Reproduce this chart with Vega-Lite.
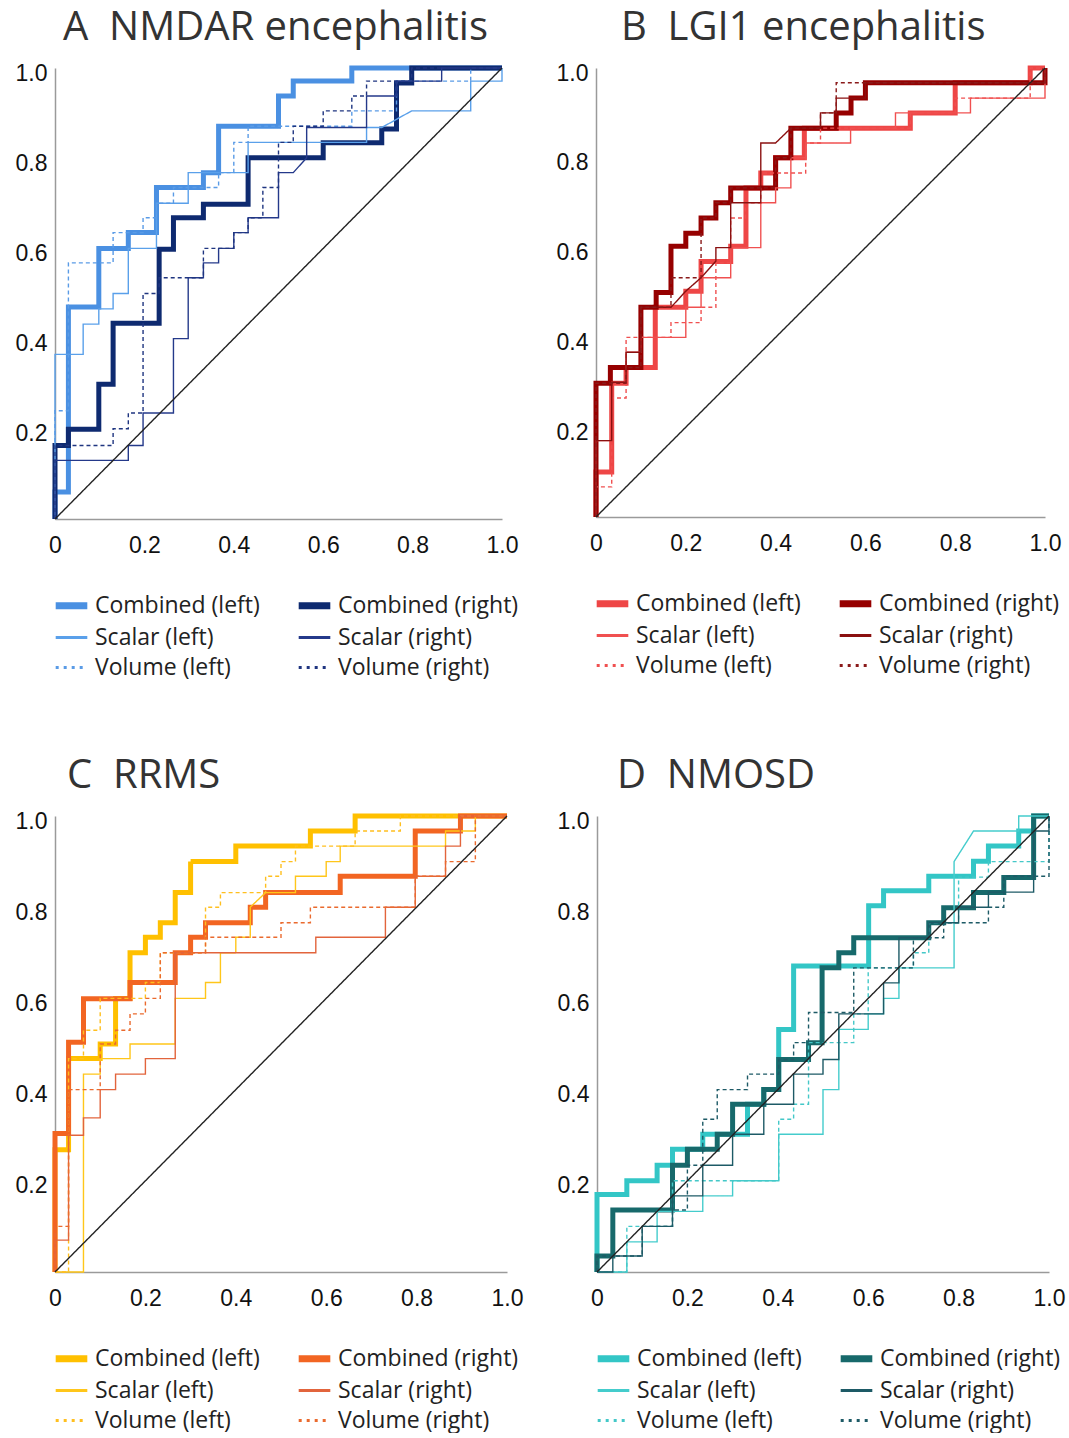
{
"$schema": "https://vega.github.io/schema/vega-lite/v6.json",
"padding": {"left": 15, "top": 8, "right": 2, "bottom": 0},
"background": "white",
"config": {
 "view": {"stroke": null},
 "axis": {"grid": false, "ticks": false, "domainColor": "#9a9a9a", "domainWidth": 1.5, "labelFont": "Liberation Sans", "labelFontSize": 23, "labelColor": "#111", "labelPadding": 8, "labelFlush": false},
 "axisX": {"labelPadding": 15},
 "axisY": {"labelOffset": 5},
 "legend": {"orient": "bottom", "columns": 2, "title": null, "labelFont": "Open Sans", "labelFontSize": 23, "labelColor": "#222", "labelLimit": 400, "symbolSize": 1000, "symbolOffset": 5, "columnPadding": 24, "rowPadding": 6, "offset": 37, "labelOffset": 12,
   "symbolStrokeWidth": {"expr": "(datum.value === 'CL' || datum.value === 'CR') ? 7 : 3"},
   "symbolDash": {"expr": "(datum.value === 'VL' || datum.value === 'VR') ? [3, 5] : [1, 0]"}},
 "title": {"font": "Open Sans", "fontSize": 40, "fontWeight": "normal", "color": "#333", "anchor": "start", "frame": "group", "offset": 10},
 "line": {"strokeJoin": "miter"}
},
"spacing": 76,
"resolve": {"scale": {"color": "independent"}, "legend": {"color": "independent"}},
"vconcat": [
{"hconcat": [
{
 "width": 447, "height": 451,
 "title": {"text": "A\u00a0\u00a0NMDAR encephalitis", "dx": 8},
 "data": {"values": [
{"s":"CL","x":0,"y":0},{"s":"CL","x":0,"y":0.06},{"s":"CL","x":0.03,"y":0.06},{"s":"CL","x":0.03,"y":0.47},{"s":"CL","x":0.098,"y":0.47},{"s":"CL","x":0.098,"y":0.6},{"s":"CL","x":0.164,"y":0.6},{"s":"CL","x":0.164,"y":0.635},{"s":"CL","x":0.227,"y":0.635},{"s":"CL","x":0.227,"y":0.735},{"s":"CL","x":0.332,"y":0.735},{"s":"CL","x":0.332,"y":0.768},{"s":"CL","x":0.366,"y":0.768},{"s":"CL","x":0.366,"y":0.871},{"s":"CL","x":0.5,"y":0.871},{"s":"CL","x":0.5,"y":0.938},{"s":"CL","x":0.533,"y":0.938},{"s":"CL","x":0.533,"y":0.971},{"s":"CL","x":0.664,"y":0.971},{"s":"CL","x":0.664,"y":1},{"s":"CL","x":1,"y":1},
{"s":"CR","x":0,"y":0},{"s":"CR","x":0,"y":0.163},{"s":"CR","x":0.03,"y":0.163},{"s":"CR","x":0.03,"y":0.199},{"s":"CR","x":0.098,"y":0.199},{"s":"CR","x":0.098,"y":0.299},{"s":"CR","x":0.13,"y":0.299},{"s":"CR","x":0.13,"y":0.434},{"s":"CR","x":0.233,"y":0.434},{"s":"CR","x":0.233,"y":0.598},{"s":"CR","x":0.265,"y":0.598},{"s":"CR","x":0.265,"y":0.668},{"s":"CR","x":0.332,"y":0.668},{"s":"CR","x":0.332,"y":0.698},{"s":"CR","x":0.432,"y":0.698},{"s":"CR","x":0.432,"y":0.801},{"s":"CR","x":0.6,"y":0.801},{"s":"CR","x":0.6,"y":0.834},{"s":"CR","x":0.731,"y":0.834},{"s":"CR","x":0.731,"y":0.865},{"s":"CR","x":0.764,"y":0.865},{"s":"CR","x":0.764,"y":0.967},{"s":"CR","x":0.798,"y":0.967},{"s":"CR","x":0.798,"y":1},{"s":"CR","x":1,"y":1},
{"s":"SL","x":0,"y":0},{"s":"SL","x":0,"y":0.365},{"s":"SL","x":0.063,"y":0.365},{"s":"SL","x":0.063,"y":0.432},{"s":"SL","x":0.098,"y":0.432},{"s":"SL","x":0.098,"y":0.466},{"s":"SL","x":0.13,"y":0.466},{"s":"SL","x":0.13,"y":0.5},{"s":"SL","x":0.164,"y":0.5},{"s":"SL","x":0.164,"y":0.6},{"s":"SL","x":0.227,"y":0.6},{"s":"SL","x":0.227,"y":0.7},{"s":"SL","x":0.298,"y":0.7},{"s":"SL","x":0.298,"y":0.768},{"s":"SL","x":0.432,"y":0.768},{"s":"SL","x":0.432,"y":0.835},{"s":"SL","x":0.697,"y":0.835},{"s":"SL","x":0.697,"y":0.868},{"s":"SL","x":0.731,"y":0.868},{"s":"SL","x":0.798,"y":0.905},{"s":"SL","x":0.93,"y":0.905},{"s":"SL","x":0.93,"y":0.971},{"s":"SL","x":1,"y":0.971},{"s":"SL","x":1,"y":1},
{"s":"VL","x":0,"y":0},{"s":"VL","x":0,"y":0.24},{"s":"VL","x":0.03,"y":0.24},{"s":"VL","x":0.03,"y":0.568},{"s":"VL","x":0.13,"y":0.568},{"s":"VL","x":0.13,"y":0.635},{"s":"VL","x":0.197,"y":0.635},{"s":"VL","x":0.197,"y":0.668},{"s":"VL","x":0.227,"y":0.668},{"s":"VL","x":0.227,"y":0.7},{"s":"VL","x":0.265,"y":0.7},{"s":"VL","x":0.265,"y":0.735},{"s":"VL","x":0.366,"y":0.735},{"s":"VL","x":0.366,"y":0.768},{"s":"VL","x":0.4,"y":0.768},{"s":"VL","x":0.4,"y":0.835},{"s":"VL","x":0.432,"y":0.835},{"s":"VL","x":0.432,"y":0.871},{"s":"VL","x":0.664,"y":0.871},{"s":"VL","x":0.664,"y":0.905},{"s":"VL","x":0.764,"y":0.905},{"s":"VL","x":0.764,"y":0.971},{"s":"VL","x":0.93,"y":0.971},{"s":"VL","x":0.93,"y":1},{"s":"VL","x":1,"y":1},
{"s":"SR","x":0,"y":0},{"s":"SR","x":0,"y":0.13},{"s":"SR","x":0.164,"y":0.13},{"s":"SR","x":0.164,"y":0.163},{"s":"SR","x":0.197,"y":0.163},{"s":"SR","x":0.197,"y":0.235},{"s":"SR","x":0.265,"y":0.235},{"s":"SR","x":0.265,"y":0.4},{"s":"SR","x":0.298,"y":0.4},{"s":"SR","x":0.298,"y":0.535},{"s":"SR","x":0.332,"y":0.535},{"s":"SR","x":0.332,"y":0.568},{"s":"SR","x":0.366,"y":0.568},{"s":"SR","x":0.366,"y":0.6},{"s":"SR","x":0.4,"y":0.6},{"s":"SR","x":0.4,"y":0.635},{"s":"SR","x":0.432,"y":0.635},{"s":"SR","x":0.432,"y":0.668},{"s":"SR","x":0.5,"y":0.668},{"s":"SR","x":0.5,"y":0.768},{"s":"SR","x":0.533,"y":0.768},{"s":"SR","x":0.563,"y":0.801},{"s":"SR","x":0.563,"y":0.868},{"s":"SR","x":0.697,"y":0.868},{"s":"SR","x":0.697,"y":0.938},{"s":"SR","x":0.764,"y":0.938},{"s":"SR","x":0.764,"y":0.971},{"s":"SR","x":0.865,"y":0.971},{"s":"SR","x":0.865,"y":1},{"s":"SR","x":1,"y":1},
{"s":"VR","x":0,"y":0},{"s":"VR","x":0,"y":0.163},{"s":"VR","x":0.13,"y":0.163},{"s":"VR","x":0.13,"y":0.2},{"s":"VR","x":0.164,"y":0.2},{"s":"VR","x":0.164,"y":0.235},{"s":"VR","x":0.197,"y":0.235},{"s":"VR","x":0.197,"y":0.5},{"s":"VR","x":0.233,"y":0.5},{"s":"VR","x":0.233,"y":0.535},{"s":"VR","x":0.332,"y":0.535},{"s":"VR","x":0.332,"y":0.6},{"s":"VR","x":0.4,"y":0.6},{"s":"VR","x":0.4,"y":0.635},{"s":"VR","x":0.432,"y":0.635},{"s":"VR","x":0.432,"y":0.668},{"s":"VR","x":0.465,"y":0.668},{"s":"VR","x":0.465,"y":0.735},{"s":"VR","x":0.5,"y":0.735},{"s":"VR","x":0.5,"y":0.835},{"s":"VR","x":0.533,"y":0.835},{"s":"VR","x":0.533,"y":0.871},{"s":"VR","x":0.6,"y":0.871},{"s":"VR","x":0.6,"y":0.905},{"s":"VR","x":0.664,"y":0.905},{"s":"VR","x":0.664,"y":0.938},{"s":"VR","x":0.697,"y":0.938},{"s":"VR","x":0.697,"y":0.971},{"s":"VR","x":0.798,"y":0.971},{"s":"VR","x":0.798,"y":1},{"s":"VR","x":1,"y":1},
{"s":"DG","x":0,"y":0},{"s":"DG","x":1,"y":1}
 ]},
 "mark": {"type": "line"},
 "encoding": {
  "x": {"field": "x", "type": "quantitative", "scale": {"domain": [0, 1], "nice": false}, "axis": {"values": [0, 0.2, 0.4, 0.6, 0.8, 1], "labelExpr": "datum.value == 0 ? '0' : format(datum.value, '.1f')", "title": null}},
  "y": {"field": "y", "type": "quantitative", "scale": {"domain": [0, 1], "nice": false}, "axis": {"values": [0.2, 0.4, 0.6, 0.8, 1], "format": ".1f", "title": null}},
  "color": {"field": "s", "type": "nominal", "scale": {"domain": ["CL","CR","SL","SR","VL","VR","DG"], "range": ["#4a90e2","#0e2a70","#5aa0ea","#24398a","#5a9be6","#1f3580","#222222"]}, "legend": {"values": ["CL","CR","SL","SR","VL","VR"], "labelExpr": "datum.label == 'CL' ? 'Combined (left)' : datum.label == 'CR' ? 'Combined (right)' : datum.label == 'SL' ? 'Scalar (left)' : datum.label == 'SR' ? 'Scalar (right)' : datum.label == 'VL' ? 'Volume (left)' : 'Volume (right)'"}},
  "strokeWidth": {"condition": {"test": "datum.s === 'CL' || datum.s === 'CR'", "value": 5}, "value": 1.4},
  "strokeDash": {"condition": {"test": "datum.s === 'VL' || datum.s === 'VR'", "value": [4, 3]}, "value": [1, 0]},
  "order": {"value": null}
 }
},
{
 "width": 449, "height": 449,
 "title": {"text": "B\u00a0\u00a0LGI1 encephalitis", "dx": 25},
 "data": {"values": [
{"s":"CL","x":0,"y":0},{"s":"CL","x":0,"y":0.1},{"s":"CL","x":0.035,"y":0.1},{"s":"CL","x":0.035,"y":0.298},{"s":"CL","x":0.067,"y":0.298},{"s":"CL","x":0.067,"y":0.333},{"s":"CL","x":0.132,"y":0.333},{"s":"CL","x":0.132,"y":0.467},{"s":"CL","x":0.2,"y":0.467},{"s":"CL","x":0.2,"y":0.503},{"s":"CL","x":0.234,"y":0.503},{"s":"CL","x":0.234,"y":0.569},{"s":"CL","x":0.3,"y":0.569},{"s":"CL","x":0.3,"y":0.603},{"s":"CL","x":0.334,"y":0.603},{"s":"CL","x":0.334,"y":0.733},{"s":"CL","x":0.367,"y":0.733},{"s":"CL","x":0.367,"y":0.766},{"s":"CL","x":0.4,"y":0.766},{"s":"CL","x":0.4,"y":0.8},{"s":"CL","x":0.464,"y":0.8},{"s":"CL","x":0.464,"y":0.866},{"s":"CL","x":0.7,"y":0.866},{"s":"CL","x":0.7,"y":0.9},{"s":"CL","x":0.8,"y":0.9},{"s":"CL","x":0.8,"y":0.967},{"s":"CL","x":0.967,"y":0.967},{"s":"CL","x":0.967,"y":1},{"s":"CL","x":1,"y":1},
{"s":"CR","x":0,"y":0},{"s":"CR","x":0,"y":0.298},{"s":"CR","x":0.032,"y":0.298},{"s":"CR","x":0.032,"y":0.333},{"s":"CR","x":0.1,"y":0.333},{"s":"CR","x":0.1,"y":0.467},{"s":"CR","x":0.134,"y":0.467},{"s":"CR","x":0.134,"y":0.5},{"s":"CR","x":0.167,"y":0.5},{"s":"CR","x":0.167,"y":0.603},{"s":"CR","x":0.2,"y":0.603},{"s":"CR","x":0.2,"y":0.632},{"s":"CR","x":0.234,"y":0.632},{"s":"CR","x":0.234,"y":0.666},{"s":"CR","x":0.267,"y":0.666},{"s":"CR","x":0.267,"y":0.7},{"s":"CR","x":0.3,"y":0.7},{"s":"CR","x":0.3,"y":0.733},{"s":"CR","x":0.4,"y":0.733},{"s":"CR","x":0.4,"y":0.8},{"s":"CR","x":0.434,"y":0.8},{"s":"CR","x":0.434,"y":0.866},{"s":"CR","x":0.535,"y":0.866},{"s":"CR","x":0.535,"y":0.9},{"s":"CR","x":0.568,"y":0.9},{"s":"CR","x":0.568,"y":0.933},{"s":"CR","x":0.6,"y":0.933},{"s":"CR","x":0.6,"y":0.967},{"s":"CR","x":1,"y":0.967},{"s":"CR","x":1,"y":1},
{"s":"SL","x":0,"y":0},{"s":"SL","x":0,"y":0.17},{"s":"SL","x":0.035,"y":0.17},{"s":"SL","x":0.035,"y":0.3},{"s":"SL","x":0.067,"y":0.3},{"s":"SL","x":0.067,"y":0.367},{"s":"SL","x":0.1,"y":0.367},{"s":"SL","x":0.1,"y":0.4},{"s":"SL","x":0.2,"y":0.4},{"s":"SL","x":0.2,"y":0.467},{"s":"SL","x":0.234,"y":0.467},{"s":"SL","x":0.234,"y":0.533},{"s":"SL","x":0.3,"y":0.533},{"s":"SL","x":0.3,"y":0.6},{"s":"SL","x":0.367,"y":0.6},{"s":"SL","x":0.367,"y":0.7},{"s":"SL","x":0.4,"y":0.7},{"s":"SL","x":0.4,"y":0.733},{"s":"SL","x":0.434,"y":0.733},{"s":"SL","x":0.434,"y":0.8},{"s":"SL","x":0.467,"y":0.8},{"s":"SL","x":0.467,"y":0.833},{"s":"SL","x":0.567,"y":0.833},{"s":"SL","x":0.567,"y":0.866},{"s":"SL","x":0.667,"y":0.866},{"s":"SL","x":0.667,"y":0.9},{"s":"SL","x":0.834,"y":0.9},{"s":"SL","x":0.834,"y":0.933},{"s":"SL","x":1,"y":0.933},{"s":"SL","x":1,"y":1},
{"s":"VL","x":0,"y":0},{"s":"VL","x":0,"y":0.067},{"s":"VL","x":0.035,"y":0.067},{"s":"VL","x":0.035,"y":0.265},{"s":"VL","x":0.067,"y":0.265},{"s":"VL","x":0.067,"y":0.4},{"s":"VL","x":0.167,"y":0.4},{"s":"VL","x":0.167,"y":0.433},{"s":"VL","x":0.234,"y":0.433},{"s":"VL","x":0.234,"y":0.467},{"s":"VL","x":0.267,"y":0.467},{"s":"VL","x":0.267,"y":0.566},{"s":"VL","x":0.3,"y":0.566},{"s":"VL","x":0.3,"y":0.666},{"s":"VL","x":0.333,"y":0.666},{"s":"VL","x":0.333,"y":0.7},{"s":"VL","x":0.367,"y":0.7},{"s":"VL","x":0.367,"y":0.766},{"s":"VL","x":0.467,"y":0.766},{"s":"VL","x":0.467,"y":0.833},{"s":"VL","x":0.5,"y":0.833},{"s":"VL","x":0.5,"y":0.866},{"s":"VL","x":0.7,"y":0.866},{"s":"VL","x":0.7,"y":0.9},{"s":"VL","x":0.8,"y":0.9},{"s":"VL","x":0.8,"y":0.933},{"s":"VL","x":0.967,"y":0.933},{"s":"VL","x":0.967,"y":1},{"s":"VL","x":1,"y":1},
{"s":"SR","x":0,"y":0},{"s":"SR","x":0,"y":0.17},{"s":"SR","x":0.035,"y":0.17},{"s":"SR","x":0.035,"y":0.3},{"s":"SR","x":0.067,"y":0.3},{"s":"SR","x":0.067,"y":0.367},{"s":"SR","x":0.1,"y":0.367},{"s":"SR","x":0.1,"y":0.467},{"s":"SR","x":0.167,"y":0.467},{"s":"SR","x":0.2,"y":0.503},{"s":"SR","x":0.234,"y":0.533},{"s":"SR","x":0.267,"y":0.57},{"s":"SR","x":0.267,"y":0.6},{"s":"SR","x":0.3,"y":0.6},{"s":"SR","x":0.3,"y":0.7},{"s":"SR","x":0.367,"y":0.7},{"s":"SR","x":0.367,"y":0.833},{"s":"SR","x":0.4,"y":0.833},{"s":"SR","x":0.434,"y":0.866},{"s":"SR","x":0.5,"y":0.866},{"s":"SR","x":0.5,"y":0.9},{"s":"SR","x":0.535,"y":0.9},{"s":"SR","x":0.535,"y":0.933},{"s":"SR","x":0.6,"y":0.933},{"s":"SR","x":0.6,"y":0.967},{"s":"SR","x":1,"y":0.967},{"s":"SR","x":1,"y":1},
{"s":"VR","x":0,"y":0},{"s":"VR","x":0,"y":0.298},{"s":"VR","x":0.067,"y":0.298},{"s":"VR","x":0.067,"y":0.333},{"s":"VR","x":0.1,"y":0.333},{"s":"VR","x":0.1,"y":0.467},{"s":"VR","x":0.167,"y":0.467},{"s":"VR","x":0.167,"y":0.533},{"s":"VR","x":0.234,"y":0.533},{"s":"VR","x":0.234,"y":0.666},{"s":"VR","x":0.267,"y":0.666},{"s":"VR","x":0.267,"y":0.7},{"s":"VR","x":0.3,"y":0.7},{"s":"VR","x":0.3,"y":0.733},{"s":"VR","x":0.4,"y":0.733},{"s":"VR","x":0.4,"y":0.8},{"s":"VR","x":0.434,"y":0.8},{"s":"VR","x":0.434,"y":0.866},{"s":"VR","x":0.5,"y":0.866},{"s":"VR","x":0.5,"y":0.9},{"s":"VR","x":0.535,"y":0.9},{"s":"VR","x":0.535,"y":0.967},{"s":"VR","x":1,"y":0.967},{"s":"VR","x":1,"y":1},
{"s":"DG","x":0,"y":0},{"s":"DG","x":1,"y":1}
 ]},
 "mark": {"type": "line"},
 "encoding": {
  "x": {"field": "x", "type": "quantitative", "scale": {"domain": [0, 1], "nice": false}, "axis": {"values": [0, 0.2, 0.4, 0.6, 0.8, 1], "labelExpr": "datum.value == 0 ? '0' : format(datum.value, '.1f')", "title": null}},
  "y": {"field": "y", "type": "quantitative", "scale": {"domain": [0, 1], "nice": false}, "axis": {"values": [0.2, 0.4, 0.6, 0.8, 1], "format": ".1f", "title": null}},
  "color": {"field": "s", "type": "nominal", "scale": {"domain": ["CL","CR","SL","SR","VL","VR","DG"], "range": ["#ee4646","#960000","#f05050","#8a1010","#f05050","#8a1a1a","#222222"]}, "legend": {"values": ["CL","CR","SL","SR","VL","VR"], "labelExpr": "datum.label == 'CL' ? 'Combined (left)' : datum.label == 'CR' ? 'Combined (right)' : datum.label == 'SL' ? 'Scalar (left)' : datum.label == 'SR' ? 'Scalar (right)' : datum.label == 'VL' ? 'Volume (left)' : 'Volume (right)'"}},
  "strokeWidth": {"condition": {"test": "datum.s === 'CL' || datum.s === 'CR'", "value": 5}, "value": 1.4},
  "strokeDash": {"condition": {"test": "datum.s === 'VL' || datum.s === 'VR'", "value": [4, 3]}, "value": [1, 0]},
  "order": {"value": null}
 }
}
], "spacing": 37,
"resolve": {"scale": {"color": "independent"}, "legend": {"color": "independent"}}},
{"hconcat": [
{
 "width": 452, "height": 456,
 "title": {"text": "C\u00a0\u00a0RRMS", "dx": 12},
 "data": {"values": [
{"s":"CL","x":0,"y":0},{"s":"CL","x":0,"y":0.268},{"s":"CL","x":0.03,"y":0.268},{"s":"CL","x":0.03,"y":0.468},{"s":"CL","x":0.1,"y":0.468},{"s":"CL","x":0.1,"y":0.5},{"s":"CL","x":0.134,"y":0.5},{"s":"CL","x":0.134,"y":0.6},{"s":"CL","x":0.166,"y":0.6},{"s":"CL","x":0.166,"y":0.7},{"s":"CL","x":0.2,"y":0.7},{"s":"CL","x":0.2,"y":0.734},{"s":"CL","x":0.233,"y":0.734},{"s":"CL","x":0.233,"y":0.766},{"s":"CL","x":0.266,"y":0.766},{"s":"CL","x":0.266,"y":0.832},{"s":"CL","x":0.3,"y":0.832},{"s":"CL","x":0.3,"y":0.9},{"s":"CL","x":0.4,"y":0.9},{"s":"CL","x":0.4,"y":0.934},{"s":"CL","x":0.565,"y":0.934},{"s":"CL","x":0.565,"y":0.967},{"s":"CL","x":0.664,"y":0.967},{"s":"CL","x":0.664,"y":1},{"s":"CL","x":1,"y":1},
{"s":"CR","x":0,"y":0},{"s":"CR","x":0,"y":0.304},{"s":"CR","x":0.03,"y":0.304},{"s":"CR","x":0.03,"y":0.504},{"s":"CR","x":0.063,"y":0.504},{"s":"CR","x":0.063,"y":0.599},{"s":"CR","x":0.166,"y":0.599},{"s":"CR","x":0.166,"y":0.635},{"s":"CR","x":0.266,"y":0.635},{"s":"CR","x":0.266,"y":0.7},{"s":"CR","x":0.3,"y":0.7},{"s":"CR","x":0.3,"y":0.734},{"s":"CR","x":0.333,"y":0.734},{"s":"CR","x":0.333,"y":0.766},{"s":"CR","x":0.432,"y":0.766},{"s":"CR","x":0.432,"y":0.8},{"s":"CR","x":0.466,"y":0.8},{"s":"CR","x":0.466,"y":0.832},{"s":"CR","x":0.631,"y":0.832},{"s":"CR","x":0.631,"y":0.868},{"s":"CR","x":0.797,"y":0.868},{"s":"CR","x":0.797,"y":0.967},{"s":"CR","x":0.897,"y":0.967},{"s":"CR","x":0.897,"y":1},{"s":"CR","x":1,"y":1},
{"s":"SL","x":0,"y":0},{"s":"SL","x":0.063,"y":0},{"s":"SL","x":0.063,"y":0.434},{"s":"SL","x":0.1,"y":0.434},{"s":"SL","x":0.1,"y":0.468},{"s":"SL","x":0.166,"y":0.468},{"s":"SL","x":0.166,"y":0.5},{"s":"SL","x":0.266,"y":0.5},{"s":"SL","x":0.266,"y":0.6},{"s":"SL","x":0.333,"y":0.6},{"s":"SL","x":0.333,"y":0.635},{"s":"SL","x":0.366,"y":0.635},{"s":"SL","x":0.366,"y":0.7},{"s":"SL","x":0.4,"y":0.7},{"s":"SL","x":0.4,"y":0.734},{"s":"SL","x":0.432,"y":0.734},{"s":"SL","x":0.432,"y":0.8},{"s":"SL","x":0.466,"y":0.832},{"s":"SL","x":0.532,"y":0.832},{"s":"SL","x":0.532,"y":0.868},{"s":"SL","x":0.6,"y":0.868},{"s":"SL","x":0.6,"y":0.9},{"s":"SL","x":0.631,"y":0.9},{"s":"SL","x":0.631,"y":0.934},{"s":"SL","x":0.864,"y":0.934},{"s":"SL","x":0.864,"y":0.967},{"s":"SL","x":0.93,"y":0.967},{"s":"SL","x":0.93,"y":1},{"s":"SL","x":1,"y":1},
{"s":"VL","x":0,"y":0},{"s":"VL","x":0.03,"y":0},{"s":"VL","x":0.03,"y":0.468},{"s":"VL","x":0.063,"y":0.468},{"s":"VL","x":0.063,"y":0.53},{"s":"VL","x":0.1,"y":0.53},{"s":"VL","x":0.1,"y":0.6},{"s":"VL","x":0.2,"y":0.6},{"s":"VL","x":0.2,"y":0.635},{"s":"VL","x":0.233,"y":0.635},{"s":"VL","x":0.233,"y":0.7},{"s":"VL","x":0.333,"y":0.7},{"s":"VL","x":0.333,"y":0.8},{"s":"VL","x":0.366,"y":0.8},{"s":"VL","x":0.366,"y":0.832},{"s":"VL","x":0.466,"y":0.832},{"s":"VL","x":0.466,"y":0.868},{"s":"VL","x":0.5,"y":0.868},{"s":"VL","x":0.5,"y":0.9},{"s":"VL","x":0.532,"y":0.9},{"s":"VL","x":0.532,"y":0.934},{"s":"VL","x":0.664,"y":0.934},{"s":"VL","x":0.664,"y":0.967},{"s":"VL","x":0.764,"y":0.967},{"s":"VL","x":0.764,"y":1},{"s":"VL","x":1,"y":1},
{"s":"SR","x":0,"y":0},{"s":"SR","x":0,"y":0.07},{"s":"SR","x":0.03,"y":0.07},{"s":"SR","x":0.03,"y":0.3},{"s":"SR","x":0.063,"y":0.3},{"s":"SR","x":0.063,"y":0.338},{"s":"SR","x":0.1,"y":0.338},{"s":"SR","x":0.1,"y":0.4},{"s":"SR","x":0.134,"y":0.4},{"s":"SR","x":0.134,"y":0.434},{"s":"SR","x":0.2,"y":0.434},{"s":"SR","x":0.2,"y":0.468},{"s":"SR","x":0.266,"y":0.468},{"s":"SR","x":0.266,"y":0.7},{"s":"SR","x":0.577,"y":0.7},{"s":"SR","x":0.577,"y":0.734},{"s":"SR","x":0.731,"y":0.734},{"s":"SR","x":0.731,"y":0.8},{"s":"SR","x":0.797,"y":0.8},{"s":"SR","x":0.797,"y":0.868},{"s":"SR","x":0.864,"y":0.868},{"s":"SR","x":0.864,"y":0.934},{"s":"SR","x":0.897,"y":0.934},{"s":"SR","x":0.897,"y":1},{"s":"SR","x":1,"y":1},
{"s":"VR","x":0,"y":0},{"s":"VR","x":0,"y":0.1},{"s":"VR","x":0.03,"y":0.1},{"s":"VR","x":0.03,"y":0.4},{"s":"VR","x":0.1,"y":0.4},{"s":"VR","x":0.1,"y":0.5},{"s":"VR","x":0.134,"y":0.5},{"s":"VR","x":0.134,"y":0.53},{"s":"VR","x":0.166,"y":0.53},{"s":"VR","x":0.166,"y":0.566},{"s":"VR","x":0.2,"y":0.566},{"s":"VR","x":0.2,"y":0.6},{"s":"VR","x":0.233,"y":0.6},{"s":"VR","x":0.233,"y":0.7},{"s":"VR","x":0.333,"y":0.7},{"s":"VR","x":0.333,"y":0.734},{"s":"VR","x":0.5,"y":0.734},{"s":"VR","x":0.5,"y":0.766},{"s":"VR","x":0.565,"y":0.766},{"s":"VR","x":0.565,"y":0.8},{"s":"VR","x":0.797,"y":0.8},{"s":"VR","x":0.797,"y":0.868},{"s":"VR","x":0.864,"y":0.868},{"s":"VR","x":0.864,"y":0.9},{"s":"VR","x":0.93,"y":0.9},{"s":"VR","x":0.93,"y":1},{"s":"VR","x":1,"y":1},
{"s":"DG","x":0,"y":0},{"s":"DG","x":1,"y":1}
 ]},
 "mark": {"type": "line"},
 "encoding": {
  "x": {"field": "x", "type": "quantitative", "scale": {"domain": [0, 1], "nice": false}, "axis": {"values": [0, 0.2, 0.4, 0.6, 0.8, 1], "labelExpr": "datum.value == 0 ? '0' : format(datum.value, '.1f')", "title": null}},
  "y": {"field": "y", "type": "quantitative", "scale": {"domain": [0, 1], "nice": false}, "axis": {"values": [0.2, 0.4, 0.6, 0.8, 1], "format": ".1f", "title": null}},
  "color": {"field": "s", "type": "nominal", "scale": {"domain": ["CL","CR","SL","SR","VL","VR","DG"], "range": ["#ffc000","#f26522","#ffc61a","#e2643c","#ffbf1f","#ea6a2e","#222222"]}, "legend": {"values": ["CL","CR","SL","SR","VL","VR"], "labelExpr": "datum.label == 'CL' ? 'Combined (left)' : datum.label == 'CR' ? 'Combined (right)' : datum.label == 'SL' ? 'Scalar (left)' : datum.label == 'SR' ? 'Scalar (right)' : datum.label == 'VL' ? 'Volume (left)' : 'Volume (right)'"}},
  "strokeWidth": {"condition": {"test": "datum.s === 'CL' || datum.s === 'CR'", "value": 5}, "value": 1.4},
  "strokeDash": {"condition": {"test": "datum.s === 'VL' || datum.s === 'VR'", "value": [4, 3]}, "value": [1, 0]},
  "order": {"value": null}
 }
},
{
 "width": 452, "height": 456,
 "title": {"text": "D\u00a0\u00a0NMOSD", "dx": 20},
 "data": {"values": [
{"s":"CL","x":0,"y":0},{"s":"CL","x":0,"y":0.17},{"s":"CL","x":0.066,"y":0.17},{"s":"CL","x":0.066,"y":0.2},{"s":"CL","x":0.133,"y":0.2},{"s":"CL","x":0.133,"y":0.234},{"s":"CL","x":0.167,"y":0.234},{"s":"CL","x":0.167,"y":0.269},{"s":"CL","x":0.234,"y":0.269},{"s":"CL","x":0.234,"y":0.302},{"s":"CL","x":0.333,"y":0.302},{"s":"CL","x":0.333,"y":0.368},{"s":"CL","x":0.369,"y":0.368},{"s":"CL","x":0.369,"y":0.4},{"s":"CL","x":0.402,"y":0.4},{"s":"CL","x":0.402,"y":0.532},{"s":"CL","x":0.435,"y":0.532},{"s":"CL","x":0.435,"y":0.671},{"s":"CL","x":0.601,"y":0.671},{"s":"CL","x":0.601,"y":0.803},{"s":"CL","x":0.634,"y":0.803},{"s":"CL","x":0.634,"y":0.836},{"s":"CL","x":0.734,"y":0.836},{"s":"CL","x":0.734,"y":0.868},{"s":"CL","x":0.833,"y":0.868},{"s":"CL","x":0.833,"y":0.901},{"s":"CL","x":0.866,"y":0.901},{"s":"CL","x":0.866,"y":0.934},{"s":"CL","x":0.933,"y":0.934},{"s":"CL","x":0.933,"y":0.967},{"s":"CL","x":0.966,"y":0.967},{"s":"CL","x":0.966,"y":1},{"s":"CL","x":1,"y":1},
{"s":"CR","x":0,"y":0},{"s":"CR","x":0,"y":0.035},{"s":"CR","x":0.035,"y":0.035},{"s":"CR","x":0.035,"y":0.136},{"s":"CR","x":0.167,"y":0.136},{"s":"CR","x":0.167,"y":0.234},{"s":"CR","x":0.2,"y":0.234},{"s":"CR","x":0.2,"y":0.269},{"s":"CR","x":0.266,"y":0.269},{"s":"CR","x":0.266,"y":0.302},{"s":"CR","x":0.3,"y":0.302},{"s":"CR","x":0.3,"y":0.368},{"s":"CR","x":0.369,"y":0.368},{"s":"CR","x":0.369,"y":0.4},{"s":"CR","x":0.402,"y":0.4},{"s":"CR","x":0.402,"y":0.466},{"s":"CR","x":0.468,"y":0.466},{"s":"CR","x":0.468,"y":0.503},{"s":"CR","x":0.498,"y":0.503},{"s":"CR","x":0.498,"y":0.667},{"s":"CR","x":0.535,"y":0.667},{"s":"CR","x":0.535,"y":0.7},{"s":"CR","x":0.568,"y":0.7},{"s":"CR","x":0.568,"y":0.733},{"s":"CR","x":0.734,"y":0.733},{"s":"CR","x":0.734,"y":0.766},{"s":"CR","x":0.767,"y":0.766},{"s":"CR","x":0.767,"y":0.799},{"s":"CR","x":0.833,"y":0.799},{"s":"CR","x":0.833,"y":0.832},{"s":"CR","x":0.9,"y":0.832},{"s":"CR","x":0.9,"y":0.865},{"s":"CR","x":0.966,"y":0.865},{"s":"CR","x":0.966,"y":1},{"s":"CR","x":1,"y":1},
{"s":"SL","x":0,"y":0},{"s":"SL","x":0.066,"y":0},{"s":"SL","x":0.066,"y":0.066},{"s":"SL","x":0.133,"y":0.066},{"s":"SL","x":0.133,"y":0.133},{"s":"SL","x":0.234,"y":0.133},{"s":"SL","x":0.234,"y":0.167},{"s":"SL","x":0.3,"y":0.167},{"s":"SL","x":0.3,"y":0.2},{"s":"SL","x":0.402,"y":0.2},{"s":"SL","x":0.402,"y":0.302},{"s":"SL","x":0.5,"y":0.302},{"s":"SL","x":0.5,"y":0.4},{"s":"SL","x":0.535,"y":0.4},{"s":"SL","x":0.535,"y":0.532},{"s":"SL","x":0.6,"y":0.532},{"s":"SL","x":0.6,"y":0.566},{"s":"SL","x":0.634,"y":0.566},{"s":"SL","x":0.634,"y":0.6},{"s":"SL","x":0.668,"y":0.6},{"s":"SL","x":0.668,"y":0.667},{"s":"SL","x":0.79,"y":0.667},{"s":"SL","x":0.79,"y":0.9},{"s":"SL","x":0.833,"y":0.967},{"s":"SL","x":0.933,"y":0.967},{"s":"SL","x":0.933,"y":1},{"s":"SL","x":1,"y":1},
{"s":"VL","x":0,"y":0},{"s":"VL","x":0.066,"y":0},{"s":"VL","x":0.066,"y":0.1},{"s":"VL","x":0.167,"y":0.1},{"s":"VL","x":0.167,"y":0.2},{"s":"VL","x":0.402,"y":0.2},{"s":"VL","x":0.402,"y":0.335},{"s":"VL","x":0.435,"y":0.335},{"s":"VL","x":0.435,"y":0.368},{"s":"VL","x":0.468,"y":0.368},{"s":"VL","x":0.468,"y":0.503},{"s":"VL","x":0.568,"y":0.503},{"s":"VL","x":0.568,"y":0.566},{"s":"VL","x":0.6,"y":0.566},{"s":"VL","x":0.6,"y":0.667},{"s":"VL","x":0.7,"y":0.667},{"s":"VL","x":0.7,"y":0.7},{"s":"VL","x":0.734,"y":0.7},{"s":"VL","x":0.734,"y":0.766},{"s":"VL","x":0.8,"y":0.766},{"s":"VL","x":0.8,"y":0.866},{"s":"VL","x":0.866,"y":0.866},{"s":"VL","x":0.866,"y":0.9},{"s":"VL","x":1,"y":0.9},{"s":"VL","x":1,"y":1},
{"s":"SR","x":0,"y":0},{"s":"SR","x":0.035,"y":0},{"s":"SR","x":0.035,"y":0.035},{"s":"SR","x":0.1,"y":0.035},{"s":"SR","x":0.1,"y":0.1},{"s":"SR","x":0.167,"y":0.1},{"s":"SR","x":0.167,"y":0.167},{"s":"SR","x":0.234,"y":0.167},{"s":"SR","x":0.234,"y":0.234},{"s":"SR","x":0.3,"y":0.234},{"s":"SR","x":0.3,"y":0.302},{"s":"SR","x":0.369,"y":0.302},{"s":"SR","x":0.369,"y":0.368},{"s":"SR","x":0.435,"y":0.368},{"s":"SR","x":0.435,"y":0.434},{"s":"SR","x":0.5,"y":0.434},{"s":"SR","x":0.5,"y":0.466},{"s":"SR","x":0.535,"y":0.466},{"s":"SR","x":0.535,"y":0.566},{"s":"SR","x":0.634,"y":0.566},{"s":"SR","x":0.634,"y":0.634},{"s":"SR","x":0.668,"y":0.634},{"s":"SR","x":0.668,"y":0.733},{"s":"SR","x":0.734,"y":0.733},{"s":"SR","x":0.734,"y":0.766},{"s":"SR","x":0.8,"y":0.766},{"s":"SR","x":0.8,"y":0.8},{"s":"SR","x":0.866,"y":0.8},{"s":"SR","x":0.866,"y":0.833},{"s":"SR","x":0.966,"y":0.833},{"s":"SR","x":0.966,"y":0.967},{"s":"SR","x":1,"y":0.967},{"s":"SR","x":1,"y":1},
{"s":"VR","x":0,"y":0},{"s":"VR","x":0,"y":0.035},{"s":"VR","x":0.1,"y":0.035},{"s":"VR","x":0.1,"y":0.1},{"s":"VR","x":0.167,"y":0.1},{"s":"VR","x":0.167,"y":0.136},{"s":"VR","x":0.2,"y":0.136},{"s":"VR","x":0.2,"y":0.234},{"s":"VR","x":0.234,"y":0.234},{"s":"VR","x":0.234,"y":0.335},{"s":"VR","x":0.266,"y":0.335},{"s":"VR","x":0.266,"y":0.4},{"s":"VR","x":0.333,"y":0.4},{"s":"VR","x":0.333,"y":0.434},{"s":"VR","x":0.402,"y":0.434},{"s":"VR","x":0.402,"y":0.466},{"s":"VR","x":0.435,"y":0.466},{"s":"VR","x":0.435,"y":0.503},{"s":"VR","x":0.468,"y":0.503},{"s":"VR","x":0.468,"y":0.569},{"s":"VR","x":0.568,"y":0.569},{"s":"VR","x":0.568,"y":0.667},{"s":"VR","x":0.7,"y":0.667},{"s":"VR","x":0.7,"y":0.733},{"s":"VR","x":0.767,"y":0.733},{"s":"VR","x":0.767,"y":0.766},{"s":"VR","x":0.866,"y":0.766},{"s":"VR","x":0.866,"y":0.8},{"s":"VR","x":0.9,"y":0.8},{"s":"VR","x":0.9,"y":0.868},{"s":"VR","x":1,"y":0.868},{"s":"VR","x":1,"y":1},
{"s":"DG","x":0,"y":0},{"s":"DG","x":1,"y":1}
 ]},
 "mark": {"type": "line"},
 "encoding": {
  "x": {"field": "x", "type": "quantitative", "scale": {"domain": [0, 1], "nice": false}, "axis": {"values": [0, 0.2, 0.4, 0.6, 0.8, 1], "labelExpr": "datum.value == 0 ? '0' : format(datum.value, '.1f')", "title": null}},
  "y": {"field": "y", "type": "quantitative", "scale": {"domain": [0, 1], "nice": false}, "axis": {"values": [0.2, 0.4, 0.6, 0.8, 1], "format": ".1f", "title": null}},
  "color": {"field": "s", "type": "nominal", "scale": {"domain": ["CL","CR","SL","SR","VL","VR","DG"], "range": ["#33c6c6","#17696b","#44cccc","#1d5a66","#44c8c8","#1d5a66","#222222"]}, "legend": {"values": ["CL","CR","SL","SR","VL","VR"], "labelExpr": "datum.label == 'CL' ? 'Combined (left)' : datum.label == 'CR' ? 'Combined (right)' : datum.label == 'SL' ? 'Scalar (left)' : datum.label == 'SR' ? 'Scalar (right)' : datum.label == 'VL' ? 'Volume (left)' : 'Volume (right)'"}},
  "strokeWidth": {"condition": {"test": "datum.s === 'CL' || datum.s === 'CR'", "value": 5}, "value": 1.4},
  "strokeDash": {"condition": {"test": "datum.s === 'VL' || datum.s === 'VR'", "value": [4, 3]}, "value": [1, 0]},
  "order": {"value": null}
 }
}
], "spacing": 34,
"resolve": {"scale": {"color": "independent"}, "legend": {"color": "independent"}}}
]
}
